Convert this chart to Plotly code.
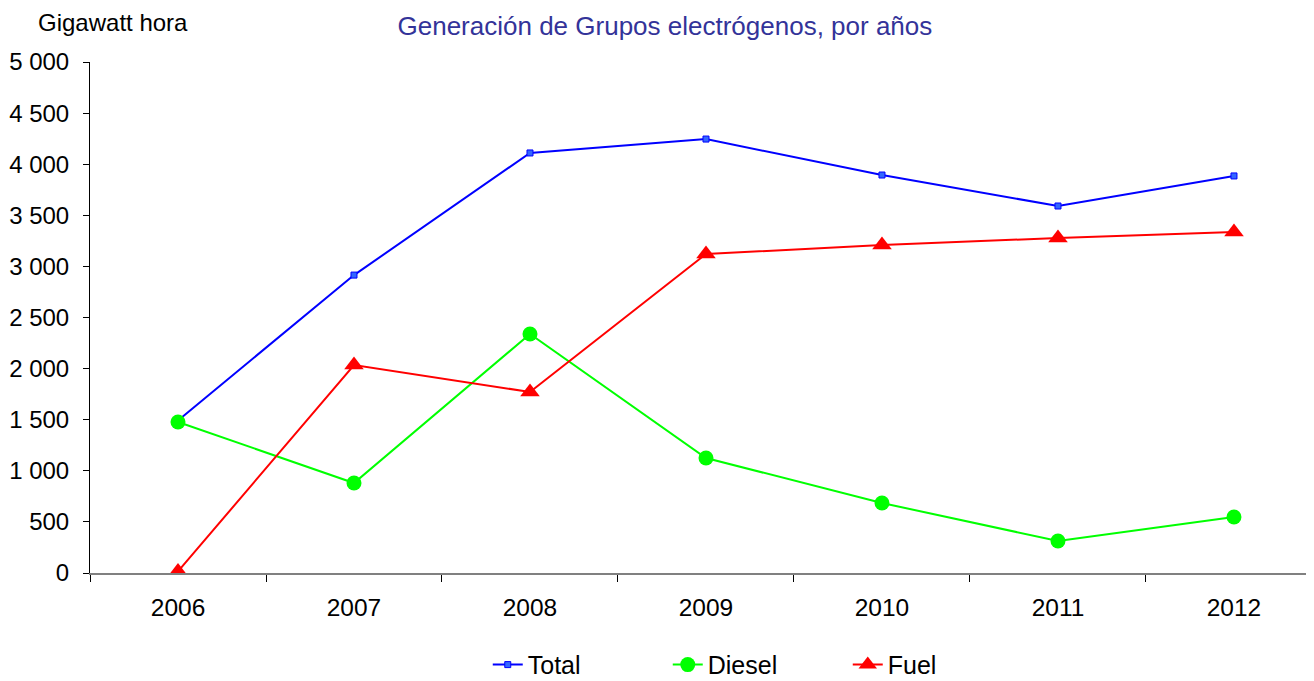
import plotly.graph_objects as go

years = ["2006", "2007", "2008", "2009", "2010", "2011", "2012"]
total = [1493, 2915, 4110, 4246, 3894, 3591, 3885]
diesel = [1478, 880, 2339, 1125, 685, 313, 548]
fuel = [15, 2035, 1771, 3121, 3209, 3278, 3337]

y_ticks = [0, 500, 1000, 1500, 2000, 2500, 3000, 3500, 4000, 4500, 5000]
y_tick_text = ["0", "500", "1 000", "1 500", "2 000", "2 500", "3 000", "3 500", "4 000", "4 500", "5 000"]

fig = go.Figure()
fig.add_trace(go.Scatter(x=years, y=total, name="Total", mode="lines+markers",
                         line=dict(color="#0000FF", width=2),
                         marker=dict(symbol="square", size=6, color="#3366FF",
                                     line=dict(color="#0000FF", width=1))))
fig.add_trace(go.Scatter(x=years, y=diesel, name="Diesel", mode="lines+markers",
                         line=dict(color="#00FF00", width=2),
                         marker=dict(symbol="circle", size=15, color="#00FF00")))
fig.add_trace(go.Scatter(x=years, y=fuel, name="Fuel", mode="lines+markers",
                         line=dict(color="#FF0000", width=2),
                         marker=dict(symbol="triangle-up", size=17, color="#FF0000")))

fig.update_layout(
    width=1306, height=673,
    paper_bgcolor="white", plot_bgcolor="white",
    margin=dict(l=82, r=1, t=54, b=108, autoexpand=False),
    font=dict(family="Liberation Sans, Arial, sans-serif", size=24, color="black"),
    title=dict(text="Generación de Grupos electrógenos, por años", x=0.503, xanchor="center",
               y=0.973, yanchor="middle",
               font=dict(size=26, color="#333399")),
    showlegend=True,
    legend=dict(orientation="h", x=0.546, xanchor="center", yref="container",
                y=0.024, yanchor="middle",
                font=dict(size=25), entrywidth=135, traceorder="normal"),
    annotations=[dict(text="Gigawatt hora", xref="paper", yref="paper", x=-0.0442, y=1.078,
                      xanchor="left", yanchor="middle", showarrow=False,
                      font=dict(size=24, color="black"))],
)
fig.update_xaxes(type="category", range=[-0.5, 6.449], tickson="boundaries",
                 ticks="outside", ticklen=7, tickcolor="black",
                 showline=True, linecolor="#808080", linewidth=1.5,
                 showgrid=False, zeroline=False, tickfont=dict(size=24.5),
                 ticklabelstandoff=12)
fig.update_yaxes(range=[0, 5000], tickvals=y_ticks, ticktext=y_tick_text,
                 ticks="outside", ticklen=6, tickcolor="black",
                 showline=True, linecolor="black", linewidth=1,
                 showgrid=False, zeroline=False, tickfont=dict(size=24),
                 ticklabelstandoff=9)

fig.write_html("out.html")
